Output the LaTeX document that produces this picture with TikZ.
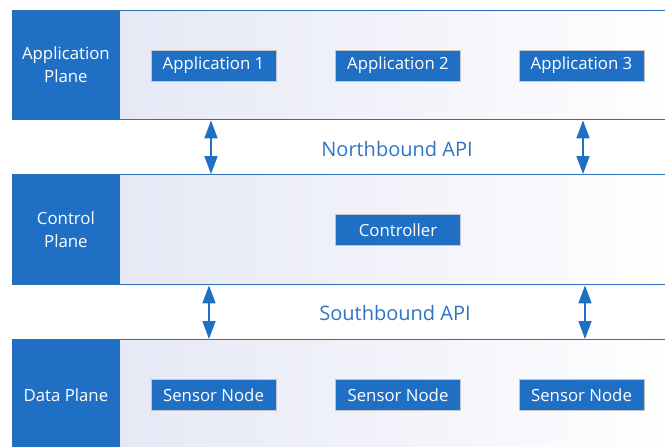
\documentclass[tikz,border=0pt]{standalone}
\usepackage{fontspec}
\setmainfont{Open Sans}
\usetikzlibrary{arrows.meta}
\definecolor{planeblue}{HTML}{1F70C4}
\definecolor{edgeblue}{HTML}{2C6FB8}
\definecolor{tint}{HTML}{E6E8F5}
\definecolor{boxgray}{HTML}{C4C4C4}
\definecolor{apiblue}{HTML}{2D74C4}
\definecolor{arrowblue}{HTML}{1F70C4}
\begin{document}
\begin{tikzpicture}[x=1pt,y=-1pt,
  planelabel/.style={fill=planeblue, draw=edgeblue, line width=0.8pt, text=white,
    font=\fontsize{16.8}{23}\selectfont, align=center, minimum width=107pt,
    inner sep=0pt, anchor=north west},
  panel/.style={draw=edgeblue, line width=1.4pt, left color=tint, middle color=white,
    right color=white, minimum width=561pt, inner sep=0pt, anchor=north west},
  itembox/.style={fill=planeblue, draw=boxgray, line width=0.8pt, text=white,
    font=\fontsize{16.8}{20}\selectfont, minimum width=125pt, minimum height=31pt,
    inner sep=0pt},
  api/.style={text=apiblue, font=\fontsize{20}{24}\selectfont},
  link/.style={{Triangle[width=13pt,length=18pt]}-{Triangle[width=13pt,length=18pt]},
    draw=arrowblue, fill=arrowblue, line width=1.6pt}]
\useasboundingbox (0,0) rectangle (665,447);
\clip (0,0) rectangle (665,447);

% three planes: shaded panel plus a solid label block on the left
\node[panel, minimum height=109pt] (appPanel) at (119,10) {};
\node[panel, minimum height=110pt] (ctlPanel) at (119,174) {};
\node[panel, minimum height=120pt] (datPanel) at (119,339) {};

\node[planelabel, minimum height=109pt] (appLbl) at (12,10) {Application\\Plane};
\node[planelabel, minimum height=110pt] (ctlLbl) at (12,174) {Control\\Plane};
\node[planelabel, minimum height=111pt] (datLbl) at (12,339) {Data Plane};

% components inside each plane
\node[itembox] (app1) at (213.5,65.5) {Application 1};
\node[itembox] (app2) at (398,65.5) {Application 2};
\node[itembox] (app3) at (581.5,65.5) {Application 3};
\node[itembox] (ctrl) at (398,230) {Controller};
\node[itembox] (sn1) at (213.5,395) {Sensor Node};
\node[itembox] (sn2) at (398,395) {Sensor Node};
\node[itembox] (sn3) at (581.5,395) {Sensor Node};

% interface labels
\node[api] (nbApi) at (397,148.5) {Northbound API};
\node[api] (sbApi) at (395,312.5) {Southbound API};

% bidirectional links between planes
\coordinate (nx1) at (211,0);
\coordinate (nx2) at (583,0);
\coordinate (sx1) at (209,0);
\coordinate (sx2) at (585,0);
\draw[link] (appPanel.south -| nx1) -- (ctlPanel.north -| nx1);
\draw[link] (appPanel.south -| nx2) -- (ctlPanel.north -| nx2);
\draw[link] (ctlPanel.south -| sx1) -- (datPanel.north -| sx1);
\draw[link] (ctlPanel.south -| sx2) -- (datPanel.north -| sx2);
\end{tikzpicture}
\end{document}
